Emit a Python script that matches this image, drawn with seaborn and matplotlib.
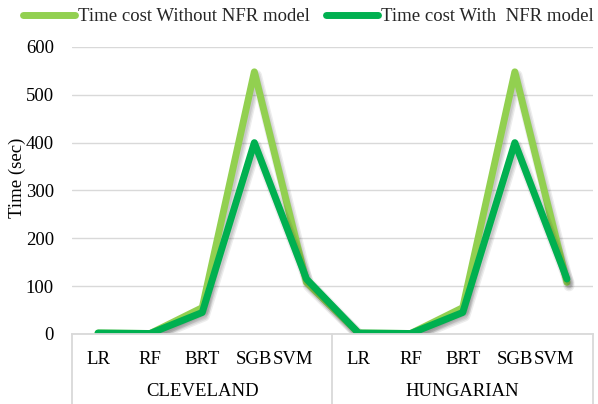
import matplotlib
matplotlib.use("Agg")
import matplotlib.pyplot as plt
import matplotlib.patheffects as pe
import matplotlib.transforms as mtransforms
import seaborn as sns
import pandas as pd

# Data
models = ["LR", "RF", "BRT", "SGB", "SVM"]
datasets = ["CLEVELAND", "HUNGARIAN"]
without_nfr = [2, 1, 55, 548, 108, 2, 1, 55, 548, 108]
with_nfr = [2, 1, 45, 400, 115, 2, 1, 45, 400, 115]
series_names = ["Time cost Without NFR model", "Time cost With  NFR model"]
colors = ["#92D050", "#00B050"]
y_ticks = [0, 100, 200, 300, 400, 500, 600]

sns.set_theme(style="white")
plt.rcParams["font.family"] = ["Liberation Serif", "DejaVu Serif"]
FS = 13.5

n = len(without_nfr)
pos = list(range(n))
df = pd.DataFrame({
    "pos": pos * 2,
    "time": without_nfr + with_nfr,
    "series": [series_names[0]] * n + [series_names[1]] * n,
})

fig = plt.figure(figsize=(5.98, 4.04), dpi=100)
ax = fig.add_axes([0.1204, 0.1733, 0.8712, 0.7104])

# soft drop shadow built from a few faint offset strokes
shadow = [pe.SimpleLineShadow(offset=(1.5, -2.5), shadow_color="black",
                              alpha=0.07, linewidth=8),
          pe.SimpleLineShadow(offset=(1.5, -2.5), shadow_color="black",
                              alpha=0.08, linewidth=6),
          pe.SimpleLineShadow(offset=(1.5, -2.5), shadow_color="black",
                              alpha=0.08, linewidth=4),
          pe.Normal()]
sns.lineplot(data=df, x="pos", y="time", hue="series", palette=colors,
             hue_order=series_names, sort=False, linewidth=5,
             ax=ax, legend=False)
for line in ax.get_lines():
    line.set_solid_capstyle("round")
    line.set_solid_joinstyle("round")
    line.set_path_effects(shadow)

ax.set_xlim(-0.5, n - 0.5)
ax.set_ylim(0, 600)
ax.set_yticks(y_ticks)
ax.set_yticklabels([str(t) for t in y_ticks], fontsize=FS, color="black")
ax.tick_params(axis="y", length=0, pad=13)
ax.grid(axis="y", color="#D9D9D9", linewidth=1)
ax.set_axisbelow(True)
for s in ["left", "right", "top"]:
    ax.spines[s].set_visible(False)
ax.spines["bottom"].set_color("#D9D9D9")
ax.spines["bottom"].set_linewidth(1.3)
ax.set_ylabel("Time (sec)", fontsize=FS, color="black")
ax.yaxis.set_label_coords(-0.088, 0.544)
ax.set_xlabel("")

# Two-level category axis
ax.set_xticks(pos)
ax.set_xticklabels(models * len(datasets), fontsize=FS, color="black")
ax.tick_params(axis="x", length=0, pad=12)
for lbl in ax.get_xticklabels():
    if lbl.get_text() == "SVM":
        lbl.set_transform(lbl.get_transform() +
                          mtransforms.ScaledTranslation(-0.13, 0, fig.dpi_scale_trans))
trans = mtransforms.blended_transform_factory(ax.transData, ax.transAxes)
for b in [-0.5, 4.5, 9.5]:
    ax.plot([b, b], [0, -0.26], transform=trans, color="#D9D9D9",
            linewidth=1.3, clip_on=False)
for i, name in enumerate(datasets):
    ax.text(i * 5 + 2, -0.2, name, transform=trans, ha="center",
            va="center", fontsize=FS, color="black")

# Legend
handles = [plt.Line2D([], [], color=c, linewidth=5, solid_capstyle="round")
           for c in colors]
fig.legend(handles, series_names, loc="upper left",
           bbox_to_anchor=(23 / 598, 1 - 8 / 404), ncol=2, frameon=False,
           fontsize=FS, handlelength=2.75, handletextpad=0.2,
           columnspacing=0.85, borderpad=0, borderaxespad=0)

fig.savefig("out.png", dpi=100)
